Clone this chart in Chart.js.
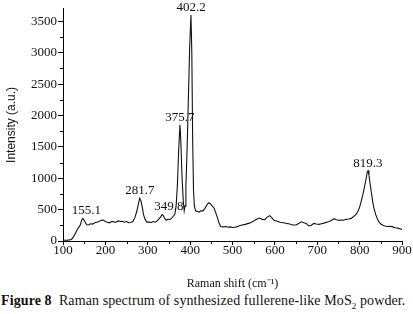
<!DOCTYPE html>
<html>
<head>
<meta charset="utf-8">
<script src="https://cdn.jsdelivr.net/npm/chart.js@4.4.0/dist/chart.umd.min.js"></script>
<style>
  body { margin: 0; background: #fff; }
  #wrap { position: relative; width: 413px; height: 314px; }
  #box { position: absolute; left: 0; top: 0; width: 413px; height: 292px; }
  #caption { position: absolute; left: 1px; top: 293px; width: 413px; white-space: nowrap;
             font: 14px 'Liberation Serif', serif; letter-spacing: 0.1px; color: #111; }
  #caption sub { font-size: 9px; }
</style>
</head>
<body>
<div id="wrap">
  <div id="box"><canvas id="myChart"></canvas></div>
  <div id="caption"><b>Figure 8</b>&nbsp; Raman spectrum of synthesized fullerene-like MoS<sub>2</sub> powder.</div>
</div>
<script>
// Raman shift (cm-1)
const ramanShift = [100,105,110,115,120,125,130,135,138,141,144,147,150,153,156,160,165,170,175,180,
  185,190,195,200,205,210,215,220,225,230,235,240,245,250,255,260,265,270,274,278,
  281,284,287,290,294,298,303,308,313,318,322,326,330,334,337,340,344,348,352,356,
  360,364,367,370,373,376,378,381,384,386,388,390,393,396,399,402,404,406,408,410,
  413,417,421,425,430,435,440,444,448,452,456,460,464,468,472,478,485,490,495,500,
  505,510,515,520,530,540,550,558,564,570,576,582,588,593,598,605,612,620,628,635,
  642,650,656,662,668,674,680,686,692,698,704,710,716,722,728,734,740,745,750,756,
  762,768,774,780,786,791,796,800,804,808,812,815,818,820,822,825,828,831,834,838,
  842,846,850,855,860,866,872,878,884,890,895,900];
// intensity (a.u.)
const intensity = [15,12,14,18,25,70,130,200,225,260,330,360,330,290,260,255,275,270,290,300,
  310,330,335,310,300,290,310,305,300,320,310,315,300,310,290,295,310,380,470,590,
  680,640,540,420,340,300,300,295,310,300,320,350,380,420,400,360,330,350,340,360,
  390,430,560,900,1450,1850,1600,1000,620,480,560,850,1500,2300,3100,3600,3000,1600,800,560,
  480,470,460,480,480,520,580,610,590,560,530,460,380,290,230,225,230,220,225,215,
  220,225,240,250,265,285,320,350,365,345,340,380,405,370,330,315,300,290,280,270,
  255,255,280,305,290,280,240,250,280,270,265,275,285,300,310,330,355,340,330,335,
  330,345,350,360,390,420,470,540,640,750,880,980,1100,1120,1050,900,760,620,520,420,
  350,300,270,250,240,230,235,225,210,205,195,185];
const peakLabels = ["155.1","281.7","349.8","375.7","402.2","819.3"];
const xTickValues = [100,200,300,400,500,600,700,800,900];
const yTickValues = [0,500,1000,1500,2000,2500,3000,3500];
const xRange = [100, 900];
const yRange = [0, 3700];

const serif = "'Liberation Serif', 'Times New Roman', serif";

// labels above the peaks
const peakText = {
  id: 'peakText',
  afterDatasetsDraw(chart) {
    const {ctx, scales: {x, y}} = chart;
    ctx.save();
    ctx.font = "13px " + serif;
    ctx.fillStyle = "#111";
    ctx.textAlign = "center";
    ctx.textBaseline = "bottom";
    peakLabels.forEach(lab => {
      const v = parseFloat(lab);
      let top = 0;
      ramanShift.forEach((s, i) => { if (Math.abs(s - v) <= 15 && intensity[i] > top) top = intensity[i]; });
      ctx.fillText(lab, x.getPixelForValue(v), y.getPixelForValue(top) - 1);
    });
    ctx.restore();
  }
};

// short minor ticks halfway between the major ones
const minorTicks = {
  id: 'minorTicks',
  afterDraw(chart) {
    const {ctx, scales: {x, y}} = chart;
    ctx.save();
    ctx.strokeStyle = "#000";
    ctx.lineWidth = 1;
    ctx.beginPath();
    for (let i = 1; i < xTickValues.length; i++) {
      const p = Math.round(x.getPixelForValue((xTickValues[i - 1] + xTickValues[i]) / 2)) + 0.5;
      ctx.moveTo(p, x.top); ctx.lineTo(p, x.top + 3);
    }
    for (let i = 1; i < yTickValues.length; i++) {
      const p = Math.round(y.getPixelForValue((yTickValues[i - 1] + yTickValues[i]) / 2)) + 0.5;
      ctx.moveTo(y.right, p); ctx.lineTo(y.right - 3, p);
    }
    ctx.stroke();
    ctx.restore();
  }
};

const ctx = document.getElementById("myChart").getContext("2d");
new Chart(ctx, {
  type: "line",
  data: {
    datasets: [{
      data: ramanShift.map((s, i) => ({x: s, y: intensity[i]})),
      borderColor: "#111",
      borderWidth: 1.1,
      pointRadius: 0,
      fill: false,
      tension: 0
    }]
  },
  options: {
    responsive: true,
    maintainAspectRatio: false,
    animation: false,
    layout: {padding: {top: 5, right: 11, left: 0, bottom: 0}},
    plugins: {legend: {display: false}, tooltip: {enabled: false}},
    scales: {
      x: {
        type: "linear",
        min: xRange[0], max: xRange[1],
        afterBuildTicks(scale) { scale.ticks = xTickValues.map(v => ({value: v})); },
        afterFit(scale) { scale.height = 51; },
        grid: {drawOnChartArea: false, drawTicks: true, tickLength: 4, color: "#000"},
        border: {color: "#000", width: 1},
        ticks: {autoSkip: false, maxRotation: 0, padding: -2, callback: v => String(v),
                color: "#111", font: {family: serif, size: 13}},
        title: {display: true, text: "Raman shift (cm\u207B\u00B9)", color: "#111",
                font: {family: serif, size: 12}, padding: {top: 0, bottom: 1}}
      },
      y: {
        min: yRange[0], max: yRange[1],
        afterBuildTicks(scale) { scale.ticks = yTickValues.map(v => ({value: v})); },
        afterFit(scale) { scale.width = 63; },
        grid: {drawOnChartArea: false, drawTicks: true, tickLength: 5, color: "#000"},
        border: {color: "#000", width: 1},
        ticks: {padding: 1, callback: v => String(v),
                color: "#111", font: {family: serif, size: 13}},
        title: {display: true, text: "Intensity (a.u.)", color: "#111",
                font: {family: "'Liberation Sans', Arial, sans-serif", size: 12}, padding: {top: 4, bottom: 0}}
      }
    }
  },
  plugins: [peakText, minorTicks]
});
</script>
</body>
</html>
